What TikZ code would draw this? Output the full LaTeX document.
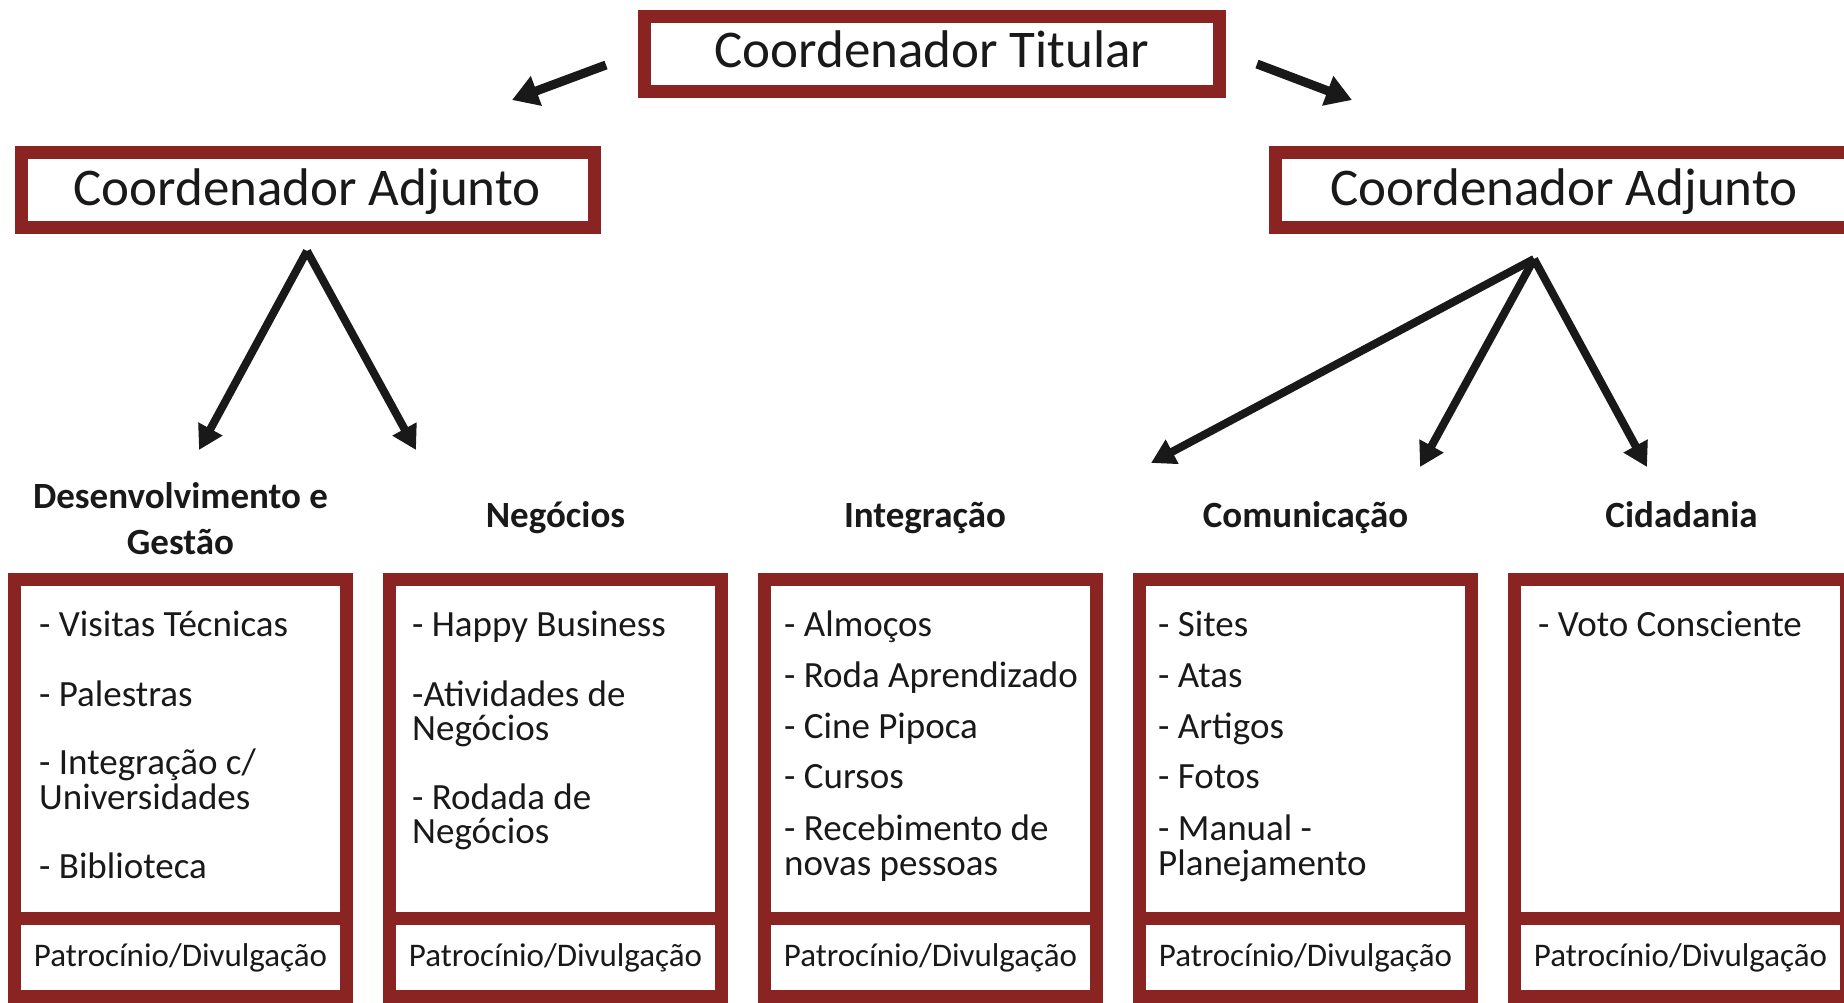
\documentclass[tikz,border=0pt]{standalone}
\usepackage{fontspec}
\setmainfont{Carlito}
\usetikzlibrary{arrows.meta}
\definecolor{boxred}{RGB}{137,36,35}
\definecolor{ink}{RGB}{25,25,25}
\begin{document}
\begin{tikzpicture}[x=1pt,y=-1pt,
  frame/.style={draw=boxred, line width=13pt, fill=white, inner sep=0pt, rectangle},
  titletxt/.style={anchor=base, font=\fontsize{53}{60}\selectfont, inner sep=0pt, text=ink},
  cattxt/.style={anchor=base, font=\fontsize{37}{42}\selectfont\bfseries, inner sep=0pt, text=ink},
  itemtxt/.style={anchor=base west, font=\fontsize{37}{42}\selectfont, inner sep=0pt, text=ink},
  pattxt/.style={anchor=base, font=\fontsize{33}{38}\selectfont, inner sep=0pt, text=ink},
  bigarrow/.style={draw=ink, line width=9pt, -{Triangle[length=26pt,width=30pt]}},
  smallarrow/.style={draw=ink, line width=8pt, -{Triangle[length=24pt,width=26pt]}},
  mainbox/.style={frame, minimum width=332pt, minimum height=339pt},
  patbox/.style={frame, minimum width=332pt, minimum height=78pt},
]
\useasboundingbox[fill=white] (0,0) rectangle (1844,1002);

% Top level
\node[frame, minimum width=575pt, minimum height=75pt] (top) at (932,54) {};
\node[titletxt] (toptxt) at (932,67) {Coordenador Titular};

\node[frame, minimum width=573pt, minimum height=75pt] (adjL) at (308,190) {};
\node[titletxt] (adjLtxt) at (307,205) {Coordenador Adjunto};

\node[frame, minimum width=575pt, minimum height=75pt] (adjR) at (1563,190) {};
\node[titletxt] (adjRtxt) at (1564,205) {Coordenador Adjunto};

% Arrow end points
\coordinate (tLs) at (606,65);
\coordinate (tLe) at (512,100);
\coordinate (tRs) at (1257,64);
\coordinate (tRe) at (1352,100);
\coordinate (aL) at (307,251);
\coordinate (aL1) at (199,450);
\coordinate (aL2) at (416,450);
\coordinate (aR) at (1534,259);
\coordinate (aR1) at (1151,463);
\coordinate (aR2) at (1420,467);
\coordinate (aR3) at (1647,467);

\draw[bigarrow] (tLs) -- (tLe);
\draw[bigarrow] (tRs) -- (tRe);
\draw[smallarrow] (aL) -- (aL1);
\draw[smallarrow] (aL) -- (aL2);
\draw[smallarrow] (aR) -- (aR1);
\draw[smallarrow] (aR) -- (aR2);
\draw[smallarrow] (aR) -- (aR3);

% Category labels
\node[cattxt] (cat1a) at (180.5,508) {Desenvolvimento e};
\node[cattxt] (cat1b) at (180.5,554) {Gestão};
\node[cattxt] (cat2) at (555.5,527) {Negócios};
\node[cattxt] (cat3) at (925,527) {Integração};
\node[cattxt] (cat4) at (1305.5,527) {Comunicação};
\node[cattxt] (cat5) at (1681.5,527) {Cidadania};

% Column boxes
\node[patbox] (pat1) at (180.5,957.5) {};
\node[patbox] (pat2) at (555.5,957.5) {};
\node[patbox] (pat3) at (930.5,957.5) {};
\node[patbox] (pat4) at (1305.5,957.5) {};
\node[patbox] (pat5) at (1680.5,957.5) {};
\node[mainbox] (box1) at (180.5,749) {};
\node[mainbox] (box2) at (555.5,749) {};
\node[mainbox] (box3) at (930.5,749) {};
\node[mainbox] (box4) at (1305.5,749) {};
\node[mainbox] (box5) at (1680.5,749) {};

\node[pattxt] (pt1) at (180.5,966) {Patrocínio/Divulgação};
\node[pattxt] (pt2) at (555.5,966) {Patrocínio/Divulgação};
\node[pattxt] (pt3) at (930.5,966) {Patrocínio/Divulgação};
\node[pattxt] (pt4) at (1305.5,966) {Patrocínio/Divulgação};
\node[pattxt] (pt5) at (1680.5,966) {Patrocínio/Divulgação};

% Column 1
\node[itemtxt] (c1a) at (39,636) {- Visitas Técnicas};
\node[itemtxt] (c1b) at (39,706) {- Palestras};
\node[itemtxt] (c1c) at (39,774) {- Integração c/};
\node[itemtxt] (c1d) at (39,809) {Universidades};
\node[itemtxt] (c1e) at (39,878) {- Biblioteca};

% Column 2
\node[itemtxt] (c2a) at (412,636) {- Happy Business};
\node[itemtxt] (c2b) at (412,706) {-Atividades de};
\node[itemtxt] (c2c) at (412,740) {Negócios};
\node[itemtxt] (c2d) at (412,809) {- Rodada de};
\node[itemtxt] (c2e) at (412,843) {Negócios};

% Column 3
\node[itemtxt] (c3a) at (784,636) {- Almoços};
\node[itemtxt] (c3b) at (784,687) {- Roda Aprendizado};
\node[itemtxt] (c3c) at (784,738) {- Cine Pipoca};
\node[itemtxt] (c3d) at (784,788) {- Cursos};
\node[itemtxt] (c3e) at (784,840) {- Recebimento de};
\node[itemtxt] (c3f) at (784,875) {novas pessoas};

% Column 4
\node[itemtxt] (c4a) at (1158,636) {- Sites};
\node[itemtxt] (c4b) at (1158,687) {- Atas};
\node[itemtxt] (c4c) at (1158,738) {- Artigos};
\node[itemtxt] (c4d) at (1158,788) {- Fotos};
\node[itemtxt] (c4e) at (1158,840) {- Manual -};
\node[itemtxt] (c4f) at (1158,875) {Planejamento};

% Column 5
\node[itemtxt] (c5a) at (1538,636) {- Voto Consciente};
\end{tikzpicture}
\end{document}
